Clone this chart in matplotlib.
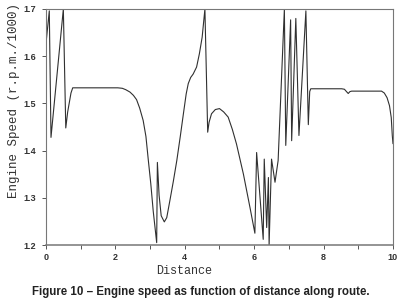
import numpy as np
import matplotlib.pyplot as plt

# Points
distance = [0.0, 0.095, 0.144, 0.50, 0.57, 0.625, 0.72, 0.77, 1.5, 2.07, 2.2, 2.3, 2.42,
            2.52, 2.61, 2.70, 2.80, 2.88, 2.95, 3.02, 3.09, 3.19, 3.21, 3.26, 3.32,
            3.41, 3.48, 3.57, 3.67, 3.77, 3.87, 3.96, 4.04, 4.10, 4.17, 4.24, 4.34,
            4.42, 4.50, 4.58, 4.66, 4.70, 4.77, 4.88, 5.0, 5.12, 5.25, 5.37, 5.49,
            5.69, 5.88, 6.02,
            6.07, 6.26, 6.29, 6.36, 6.41, 6.43, 6.50, 6.60, 6.69, 6.87, 6.91,
            7.05, 7.08, 7.20, 7.29, 7.49, 7.56, 7.60, 7.63, 8.0, 8.52, 8.60, 8.66,
            8.71, 8.76, 8.81, 9.3, 9.67, 9.75, 9.83, 9.90, 9.95, 9.98, 10.0]
speed = [1.627, 1.696, 1.428, 1.700, 1.448, 1.482, 1.522, 1.533, 1.533, 1.533, 1.532, 1.529, 1.524,
         1.517, 1.508, 1.490, 1.464, 1.430, 1.379, 1.330, 1.272, 1.205, 1.375, 1.305, 1.262,
         1.249, 1.258, 1.294, 1.335, 1.379, 1.430, 1.478, 1.520, 1.542, 1.555, 1.562, 1.577,
         1.605, 1.640, 1.700, 1.439, 1.460, 1.478, 1.487, 1.489, 1.482, 1.471, 1.445, 1.414,
         1.350, 1.279, 1.225,
         1.396, 1.212, 1.382, 1.237, 1.343, 1.200, 1.382, 1.333, 1.379, 1.700, 1.411,
         1.677, 1.421, 1.680, 1.432, 1.696, 1.455, 1.525, 1.531, 1.531, 1.531, 1.530, 1.525,
         1.521, 1.525, 1.526, 1.526, 1.526, 1.522, 1.512, 1.495, 1.470, 1.432, 1.415]

x_ticks = [0, 2, 4, 6, 8, 10]
y_ticks = [1.2, 1.3, 1.4, 1.5, 1.6, 1.7]

fig = plt.figure(figsize=(4.01, 3.06), dpi=100)
ax = fig.add_axes([0.1147, 0.1993, 0.8653, 0.7713])

ax.plot(distance, speed, color="#303030", linewidth=0.8)

ax.set_xlim(0, 10)
ax.set_ylim(1.2, 1.7)
ax.set_xticks(x_ticks)
ax.set_xticks([1, 3, 5, 7, 9], minor=True)
ax.set_yticks(y_ticks)
ax.set_xticklabels([str(t) for t in x_ticks], fontsize=6.5, fontweight="bold",
                   family="Liberation Sans", color="#333333")
ax.set_yticklabels([f"{t:.1f}" for t in y_ticks], fontsize=6.5, fontweight="bold",
                   family="Liberation Sans", color="#333333")
ax.tick_params(which="both", direction="out", length=3, width=0.7, color="#555555", pad=3)
ax.tick_params(axis="y", pad=4)

for s in ax.spines.values():
    s.set_color("#777777")
    s.set_linewidth(0.8)
ax.spines["bottom"].set_linewidth(1.1)

fig.text(0.46, 0.115, "Distance", ha="center", va="center", family="Liberation Mono",
         fontsize=8.5, color="#333333")
fig.text(0.035, 0.67, "Engine Speed (r.p.m./1000)", rotation=90, ha="center", va="center",
         family="Liberation Mono", fontsize=9, color="#333333")
fig.text(0.5, 0.045, "Figure 10 \u2013 Engine speed as function of distance along route.",
         ha="center", va="center", family="Liberation Sans", fontweight="bold",
         fontsize=8.3, color="#222222")

fig.savefig("out.png", dpi=100)
